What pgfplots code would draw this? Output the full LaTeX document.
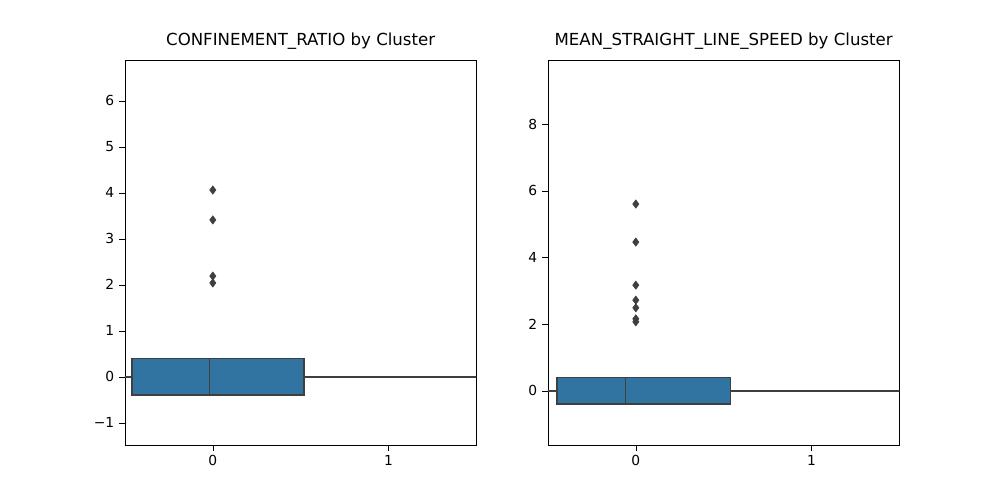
\documentclass[border=0pt]{standalone}
\usepackage{pgfplots}
\pgfplotsset{compat=1.18}
\usepgfplotslibrary{statistics}
\usepackage{fontspec}
\setmainfont{DejaVu Sans}
\definecolor{cb}{HTML}{3274A1}
\definecolor{co}{HTML}{E1812C}
\definecolor{ed}{HTML}{3F3F3F}
\pgfplotsset{
  every axis/.append style={
    scale only axis, width=254pt, height=278pt,
    xmin=-0.5, xmax=1.5, xtick={0,1}, xticklabels={0,1},
    tick align=outside, tick style={black},
    tick label style={font=\fontsize{10}{12}\selectfont},
    title style={font=\fontsize{12}{14}\selectfont, yshift=-2pt},
    boxplot/box extend=0.8, boxplot/whisker extend=0.32,
    axis line style={black}, ytick pos=left, xtick pos=bottom,
  },
}
\begin{document}
\begin{tikzpicture}[x=1pt,y=1pt]
\path (0,0) rectangle (722.7,361.35);
\begin{axis}[at={(90.3pt,39.8pt)}, anchor=south west,
  ymin=-1.48, ymax=6.88, ytick={-1,0,...,6}, yticklabels={−1,0,1,2,3,4,5,6},
  title={CONFINEMENT\_RATIO by Cluster}]
\addplot[boxplot prepared={draw position=0, lower whisker=-1.10, lower quartile=-0.46, median=-0.02, upper quartile=0.52, upper whisker=1.78}, draw=ed, line width=1.1pt, fill=cb] coordinates {};
\addplot[boxplot prepared={draw position=1, lower whisker=4.77, lower quartile=5.27, median=5.75, upper quartile=6.09, upper whisker=6.49}, draw=ed, line width=1.1pt, fill=co] coordinates {};
\addplot[only marks, mark=diamond*, mark size=3pt, color=ed] coordinates {(0,4.06) (0,3.41) (0,2.19) (0,2.04)};
\end{axis}
\begin{axis}[at={(396pt,39.8pt)}, anchor=south west,
  ymin=-1.62, ymax=9.91, ytick={0,2,4,6,8}, yticklabels={0,2,4,6,8},
  title={MEAN\_STRAIGHT\_LINE\_SPEED by Cluster}]
\addplot[boxplot prepared={draw position=0, lower whisker=-1.11, lower quartile=-0.45, median=-0.06, upper quartile=0.54, upper whisker=2.01}, draw=ed, line width=1.1pt, fill=cb] coordinates {};
\addplot[boxplot prepared={draw position=1, lower whisker=7.31, lower quartile=7.85, median=8.39, upper quartile=8.90, upper whisker=9.37}, draw=ed, line width=1.1pt, fill=co] coordinates {};
\addplot[only marks, mark=diamond*, mark size=3pt, color=ed] coordinates {(0,5.6) (0,4.46) (0,3.17) (0,2.72) (0,2.49) (0,2.16) (0,2.07)};
\end{axis}
\end{tikzpicture}
\end{document}
